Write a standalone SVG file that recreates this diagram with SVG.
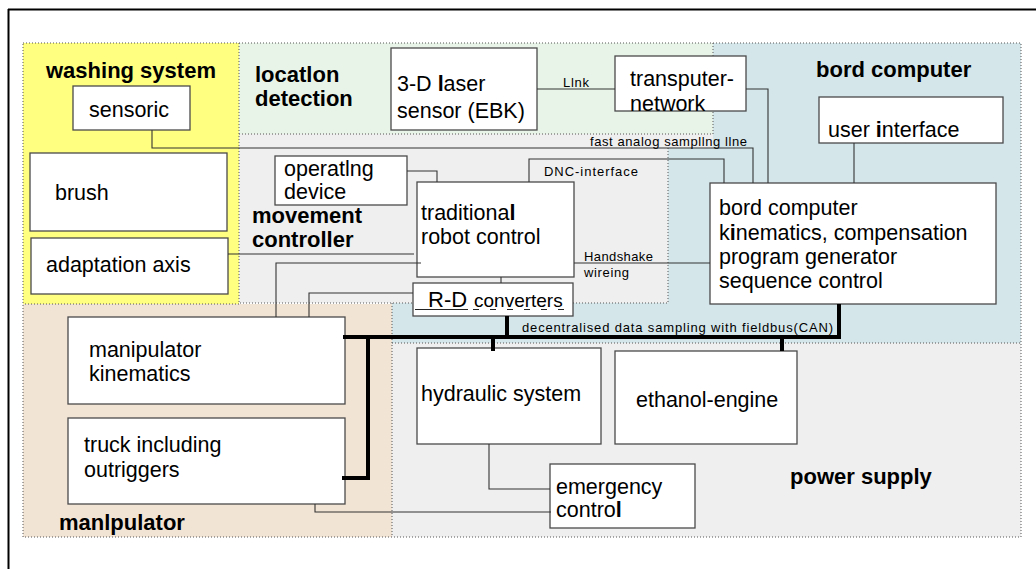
<svg xmlns="http://www.w3.org/2000/svg" width="1036" height="569" viewBox="0 0 1036 569">
<style>
.t{font-family:"Liberation Sans",Arial,sans-serif;font-size:21.5px;fill:#000}
.b{font-family:"Liberation Sans",Arial,sans-serif;font-size:22px;font-weight:bold;fill:#000}
.s{font-family:"Liberation Sans",Arial,sans-serif;font-size:13px;fill:#000}
.box{fill:#fff;stroke:#4a4a4a;stroke-width:1.3}
.dot{fill:none;stroke:#555;stroke-width:1;stroke-dasharray:1 2}
.ln{fill:none;stroke:#333;stroke-width:1.1}
.bus{fill:none;stroke:#000;stroke-width:4}
.bw{font-weight:bold}
</style>
<rect width="1036" height="569" fill="#fff"/>
<g id="frame">
<line x1="8" y1="9.5" x2="1036" y2="9.5" stroke="#000" stroke-width="2"/>
<line x1="8.5" y1="9" x2="8.5" y2="569" stroke="#000" stroke-width="2"/>
</g>
<g id="regions">
<rect x="23" y="43" width="216" height="261" fill="#ffff80"/>
<rect x="239" y="43" width="474" height="91" fill="#e9f4e9"/>
<polygon points="713,43 1021,43 1021,343 392,343 392,303 668,303 668,148 713,148" fill="#d5e6ea"/>
<polygon points="239,134 713,134 713,148 668,148 668,303 239,303" fill="#efefef"/>
<rect x="23" y="304" width="369" height="233" fill="#f2e4d5"/>
<rect x="392" y="343" width="629" height="194" fill="#efefef"/>
<rect class="dot" x="23" y="43" width="998" height="494"/>
<polyline class="dot" points="239,43 239,304 23,304"/>
<polyline class="dot" points="239,134 713,134 713,43"/>
<polyline class="dot" points="668,148 668,303 239,303"/>
<polyline class="dot" points="392,303 392,537"/>
<polyline class="dot" points="392,343 1021,343"/>
<text class="b" x="46" y="78">washing system</text>
<text class="b" x="255" y="82">locatlon</text>
<text class="b" x="255" y="106">detection</text>
<text class="b" x="816" y="77">bord computer</text>
<text class="b" x="252" y="223">movement</text>
<text class="b" x="252" y="247">controller</text>
<text class="b" x="59" y="530">manlpulator</text>
<text class="b" x="790" y="484">power supply</text>
</g>
<g id="sensoric"><rect class="box" x="73" y="86" width="117" height="44"/><text class="t" x="89" y="117">sensoric</text></g>
<g id="brush"><rect class="box" x="30" y="153" width="197" height="78"/><text class="t" x="55" y="200">brush</text></g>
<g id="adaptation-axis"><rect class="box" x="31" y="238" width="197" height="56"/><text class="t" x="46" y="272">adaptation axis</text></g>
<g id="laser-sensor"><rect class="box" x="391" y="48" width="146" height="82"/><text class="t" x="397" y="91">3-D <tspan class="bw">l</tspan>aser</text><text class="t" x="397" y="118">sensor (EBK)</text></g>
<g id="transputer"><rect class="box" x="615" y="56" width="131" height="55"/><text class="t" x="630" y="86">transputer-</text><text class="t" x="630" y="111">network</text></g>
<g id="user-interface"><rect class="box" x="819" y="97" width="184" height="46"/><text class="t" x="828" y="137">user <tspan class="bw">i</tspan>nterface</text></g>
<g id="operating-device"><rect class="box" x="275" y="156" width="132" height="49"/><text class="t" x="284" y="176">operatlng</text><text class="t" x="284" y="199">device</text></g>
<g id="robot-control"><rect class="box" x="417" y="182" width="157" height="95"/><text class="t" x="421" y="220">traditiona<tspan class="bw">l</tspan></text><text class="t" x="421" y="244">robot control</text></g>
<g id="rd-converters"><rect class="box" x="413" y="283" width="160" height="33"/><text class="t" x="428" y="307" style="font-size:22px">R-D</text><text class="t" x="474" y="307" style="font-size:19px">converters</text>
<line x1="415" y1="309.5" x2="468" y2="309.5" stroke="#222" stroke-width="1.2"/>
<line x1="473" y1="309.5" x2="571" y2="309.5" stroke="#222" stroke-width="1.2" stroke-dasharray="6 11"/></g>
<g id="bord-computer"><rect class="box" x="710" y="183" width="286" height="121"/>
<text class="t" x="719" y="215">bord computer</text>
<text class="t" x="719" y="240">k<tspan class="bw">i</tspan>nematics, compensation</text>
<text class="t" x="719" y="264">program generator</text>
<text class="t" x="719" y="288">sequence control</text></g>
<g id="manipulator-kinematics"><rect class="box" x="68" y="317" width="277" height="87"/><text class="t" x="89" y="357">manipulator</text><text class="t" x="89" y="381">kinematics</text></g>
<g id="truck"><rect class="box" x="68" y="418" width="277" height="86"/><text class="t" x="84" y="452">truck including</text><text class="t" x="84" y="477">outriggers</text></g>
<g id="hydraulic"><rect class="box" x="417" y="348" width="184" height="96"/><text class="t" x="421" y="401">hydraulic system</text></g>
<g id="ethanol"><rect class="box" x="615" y="351" width="182" height="93"/><text class="t" x="636" y="407">ethanol-engine</text></g>
<g id="emergency"><rect class="box" x="550" y="464" width="145" height="64"/><text class="t" x="556" y="494">emergency</text><text class="t" x="556" y="517">contro<tspan class="bw">l</tspan></text></g>
<g id="connectors">
<polyline class="ln" points="152,130 152,148 753,148 753,183"/>
<line class="ln" x1="537" y1="89" x2="615" y2="89"/>
<polyline class="ln" points="746,89 768,89 768,183"/>
<line class="ln" x1="854" y1="143" x2="854" y2="183"/>
<polyline class="ln" points="529,182 529,159 724,159 724,183"/>
<polyline class="ln" points="407,171 437,171 437,182"/>
<line class="ln" x1="228" y1="254" x2="414" y2="254"/>
<polyline class="ln" points="276,317 276,263 421,263"/>
<polyline class="ln" points="309,317 309,293 413,293"/>
<line class="ln" x1="501" y1="277" x2="501" y2="283"/>
<line class="ln" x1="574" y1="263" x2="710" y2="263"/>
<polyline class="ln" points="489,444 489,489 550,489" stroke="#666"/>
<polyline class="ln" points="315,504 315,512 551,512"/>
<polyline class="bus" points="343,337 839,337 839,304"/>
<line class="bus" x1="507" y1="316" x2="507" y2="337" stroke-width="5"/>
<line class="bus" x1="493" y1="337" x2="493" y2="351" stroke-width="6"/>
<line class="bus" x1="782" y1="337" x2="782" y2="351" stroke-width="5"/>
<polyline class="bus" points="368,337 368,478 342,478"/>
<text class="s" x="563" y="87" textLength="26" lengthAdjust="spacing">Llnk</text>
<text class="s" x="590" y="146" textLength="157" lengthAdjust="spacing">fast analog sampllng llne</text>
<text class="s" x="544" y="176" textLength="94" lengthAdjust="spacing">DNC-interface</text>
<text class="s" x="584" y="261" textLength="69" lengthAdjust="spacing">Handshake</text>
<text class="s" x="584" y="277" textLength="45" lengthAdjust="spacing">wireing</text>
<text class="s" x="522" y="332" textLength="311" lengthAdjust="spacing">decentralised data sampling with fieldbus(CAN)</text>
</g>
</svg>
